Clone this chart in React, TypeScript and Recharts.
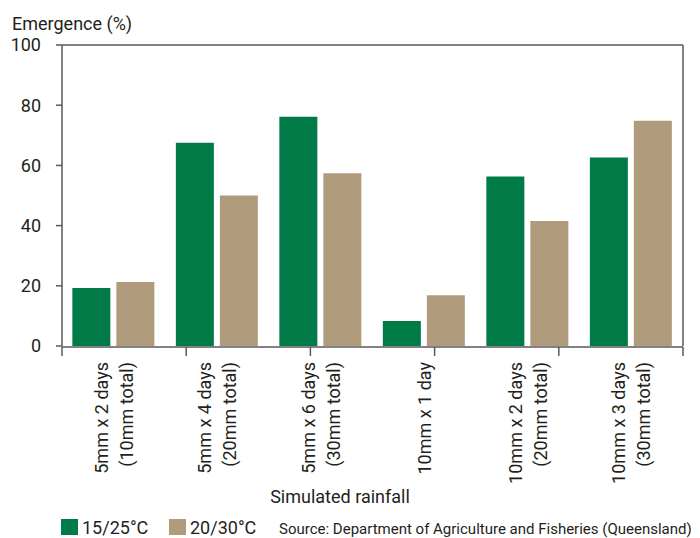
import React from "react";
import { BarChart, Bar, XAxis, YAxis } from "recharts";

const categories = [
  "5mm x 2 days\n(10mm total)",
  "5mm x 4 days\n(20mm total)",
  "5mm x 6 days\n(30mm total)",
  "10mm x 1 day",
  "10mm x 2 days\n(20mm total)",
  "10mm x 3 days\n(30mm total)",
];
const series1525 = [19.3, 67.5, 76.2, 8.3, 56.3, 62.6];
const series2030 = [21.3, 50.0, 57.4, 16.9, 41.5, 74.8];
const yTicks = [0, 20, 40, 60, 80, 100];
const boundaryTicks = [0, 1, 2, 3, 4, 5, 6];

const data = categories.map((c, i) => ({
  name: c,
  a: series1525[i],
  b: series2030[i],
}));

const GREEN = "#007a47";
const TAN = "#b09c7c";
const TEXT = "#231f20";
const AXIS = "#58595b";
const FONT = "Roboto, 'DejaVu Sans', sans-serif";

const CatTick = (props: any) => {
  const { x, payload } = props;
  const lines = String(payload.value).split("\n");
  const n = lines.length;
  const ay = 354;
  return (
    <g>
      {lines.map((l: string, i: number) => (
        <text
          key={i}
          x={x}
          y={ay}
          dy={(i - (n - 1) / 2) * 25 + 6.3}
          transform={`rotate(-90, ${x}, ${ay})`}
          textAnchor="end"
          fontSize={18}
          fontFamily={FONT}
          fill={TEXT}
        >
          {l}
        </text>
      ))}
    </g>
  );
};

const NoTick = () => <g />;

export default function App() {
  return (
    <div style={{ position: "relative", width: 700, height: 530, fontFamily: FONT }}>
      <BarChart
        width={700}
        height={530}
        data={data}
        margin={{ top: 36, right: 24, left: 0, bottom: 190 }}
        barCategoryGap="10%"
        barGap={6}
      >
        <XAxis
          xAxisId="cat"
          dataKey="name"
          height={1}
          axisLine={false}
          tickLine={false}
          tickSize={0}
          tickMargin={0}
          interval={0}
          tick={<CatTick />}
        />
        <XAxis
          xAxisId="num"
          type="number"
          domain={[0, 6]}
          ticks={boundaryTicks}
          height={1}
          tickSize={9}
          axisLine={{ stroke: AXIS, strokeWidth: 1.5 }}
          tickLine={{ stroke: AXIS, strokeWidth: 1.5 }}
          tick={NoTick}
          allowDataOverflow
        />
        <XAxis
          xAxisId="top"
          orientation="top"
          type="number"
          domain={[0, 1]}
          height={1}
          tick={false}
          tickLine={false}
          axisLine={{ stroke: AXIS, strokeWidth: 1.5 }}
        />
        <YAxis
          yAxisId="left"
          domain={[0, 100]}
          ticks={yTicks}
          width={54}
          tickSize={6}
          tickMargin={15}
          axisLine={{ stroke: AXIS, strokeWidth: 1.5 }}
          tickLine={{ stroke: AXIS, strokeWidth: 1.5 }}
          tick={{ fill: TEXT, fontSize: 18, fontFamily: FONT }}
        />
        <YAxis
          yAxisId="right"
          orientation="right"
          domain={[0, 100]}
          width={1}
          tick={false}
          tickLine={false}
          axisLine={{ stroke: AXIS, strokeWidth: 1.5 }}
        />
        <Bar xAxisId="cat" yAxisId="left" dataKey="a" fill={GREEN} isAnimationActive={false} />
        <Bar xAxisId="cat" yAxisId="left" dataKey="b" fill={TAN} isAnimationActive={false} />
      </BarChart>
      <svg
        width={700}
        height={530}
        style={{ position: "absolute", left: 0, top: 0, pointerEvents: "none" }}
      >
        <text x={4} y={22} fontSize={18} fontFamily={FONT} fill={TEXT}>
          Emergence (%)
        </text>
        <text x={332} y={495} fontSize={18} fontFamily={FONT} fill={TEXT} textAnchor="middle">
          Simulated rainfall
        </text>
        <rect x={53} y={511} width={17} height={16} fill={GREEN} />
        <text x={74} y={526} fontSize={18} fontFamily={FONT} fill={TEXT}>
          15/25°C
        </text>
        <rect x={161} y={511} width={17} height={16} fill={TAN} />
        <text x={182} y={526} fontSize={18} fontFamily={FONT} fill={TEXT}>
          20/30°C
        </text>
        <text x={271} y={526} fontSize={15} fontFamily={FONT} fill={TEXT}>
          Source: Department of Agriculture and Fisheries (Queensland)
        </text>
      </svg>
    </div>
  );
}
